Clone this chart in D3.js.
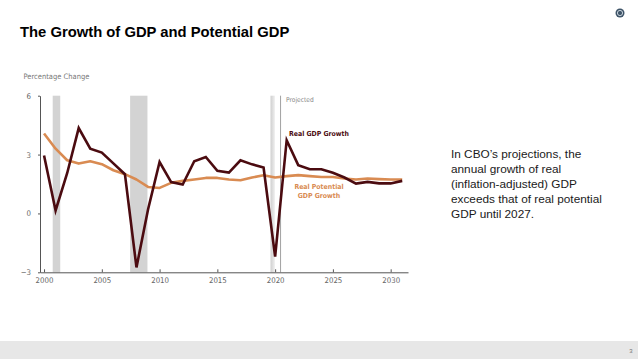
<!DOCTYPE html>
<html>
<head>
<meta charset="utf-8">
<script src="https://cdn.jsdelivr.net/npm/d3@7"></script>
<style>
  html, body { margin: 0; padding: 0; background: #fff; }
  svg { display: block; }
</style>
</head>
<body>
<svg id="chart" width="638" height="359"></svg>
<script>
// ---- data ----
const years = d3.range(2000, 2032);
const realGDP = [2.95, 0.15, 2.05, 4.35, 3.3, 3.1, 2.55, 2.0, -2.75, 0.2,
                 2.62, 1.6, 1.47, 2.66, 2.88, 2.17, 2.08, 2.71, 2.5, 2.34,
                 -2.2, 3.73, 2.46, 2.25, 2.25, 2.07, 1.83, 1.52, 1.61, 1.53, 1.53, 1.66];
const potentialGDP = [4.07, 3.3, 2.71, 2.54, 2.66, 2.51, 2.2, 2.0, 1.73, 1.35,
                      1.3, 1.56, 1.66, 1.73, 1.81, 1.81, 1.73, 1.69, 1.83, 1.95,
                      1.83, 1.9, 1.95, 1.9, 1.86, 1.86, 1.78, 1.73, 1.78, 1.75, 1.73, 1.73];
const recessions = [[2000.75, 2001.4], [2007.45, 2008.95]];
const covidRecession = [2019.6, 2019.98];
const projectedStart = 2020.47;
const xTicks = [2000, 2005, 2010, 2015, 2020, 2025, 2030];
const yTicks = [-3, 0, 3, 6];
const bodyLines = ["In CBO\u2019s projections, the", "annual growth of real",
                   "(inflation-adjusted) GDP", "exceeds that of real potential", "GDP until 2027."];

// ---- setup ----
const svg = d3.select("#chart");
const narrow = "'Liberation Sans Narrow', 'DejaVu Sans Condensed', 'Roboto Condensed', sans-serif";
const arial = "'Liberation Sans', Arial, sans-serif";

const x = d3.scaleLinear().domain([1999.65, 2031.5]).range([40, 408]);
const y = d3.scaleLinear().domain([-3, 6]).range([272.3, 95.7]);

const defs = svg.append("defs");
const grad = defs.append("linearGradient").attr("id", "covidGrad").attr("x1", "0").attr("x2", "1");
grad.append("stop").attr("offset", "0").attr("stop-color", "#cfcfcf");
grad.append("stop").attr("offset", "1").attr("stop-color", "#efefef");

// Title
svg.append("text").attr("x", 20).attr("y", 36.8)
  .attr("font-family", arial).attr("font-weight", "bold").attr("font-size", 14.8)
  .attr("fill", "#000").text("The Growth of GDP and Potential GDP");

// Logo
const logo = svg.append("g").attr("transform", "translate(620,13)");
logo.append("circle").attr("r", 4.5).attr("fill", "#3e5468");
logo.append("circle").attr("r", 2.6).attr("fill", "none").attr("stroke", "#c9d3dc").attr("stroke-width", 1);

// Footer band
svg.append("rect").attr("x", 0).attr("y", 341).attr("width", 638).attr("height", 18).attr("fill", "#e7e7e7");
svg.append("text").attr("x", 631).attr("y", 353).attr("text-anchor", "middle")
  .attr("font-family", arial).attr("font-size", 6).attr("fill", "#777").text("3");

// Recession bars
svg.append("g").selectAll("rect").data(recessions).join("rect")
  .attr("x", d => x(d[0])).attr("width", d => x(d[1]) - x(d[0]))
  .attr("y", y(6)).attr("height", y(-3) - y(6)).attr("fill", "#d3d3d3");
svg.append("rect").attr("x", x(covidRecession[0])).attr("width", x(covidRecession[1]) - x(covidRecession[0]))
  .attr("y", y(6)).attr("height", y(-3) - y(6)).attr("fill", "url(#covidGrad)");

// Projected line
svg.append("line").attr("x1", x(projectedStart)).attr("x2", x(projectedStart))
  .attr("y1", y(6)).attr("y2", y(-3)).attr("stroke", "#8a8a8a").attr("stroke-width", 0.8);
svg.append("text").attr("x", x(projectedStart) + 5.5).attr("y", 101.5)
  .attr("font-family", narrow).attr("font-size", 6.6).attr("fill", "#888").text("Projected");

// Percentage Change
svg.append("text").attr("x", 23.5).attr("y", 79)
  .attr("font-family", narrow).attr("font-size", 7.5).attr("fill", "#777").text("Percentage Change");

// Axes
const xAxis = svg.append("g").attr("transform", `translate(0,${y(-3)})`)
  .call(d3.axisBottom(x).tickValues(xTicks).tickSizeInner(-3).tickSizeOuter(0).tickPadding(5).tickFormat(d3.format("d")));
xAxis.select(".domain").attr("stroke", "#555");
xAxis.selectAll(".tick line").attr("stroke", "#555");
xAxis.selectAll("text").attr("font-family", narrow).attr("font-size", 7.8).attr("fill", "#666");

const yAxis = svg.append("g").attr("transform", `translate(40,0)`)
  .call(d3.axisLeft(y).tickValues(yTicks).tickSizeInner(2).tickSizeOuter(0).tickPadding(7));
yAxis.select(".domain").attr("stroke", "#555");
yAxis.selectAll(".tick line").attr("stroke", "#555");
yAxis.selectAll("text").attr("font-family", narrow).attr("font-size", 7.8).attr("fill", "#666");

// Lines
const line = d3.line().x((d, i) => x(years[i])).y(d => y(d));
svg.append("path").datum(potentialGDP).attr("d", line)
  .attr("fill", "none").attr("stroke", "#d98b52").attr("stroke-width", 2.6).attr("stroke-linejoin", "round");
svg.append("path").datum(realGDP).attr("d", line)
  .attr("fill", "none").attr("stroke", "#4b0b10").attr("stroke-width", 2.6).attr("stroke-linejoin", "miter");

// Series labels
svg.append("text").attr("x", 289).attr("y", 135.5)
  .attr("font-family", narrow).attr("font-weight", "bold").attr("font-size", 6.9)
  .attr("fill", "#4b0b10").text("Real GDP Growth");
const pl = svg.append("text").attr("font-family", narrow).attr("font-weight", "bold").attr("font-size", 6.9)
  .attr("fill", "#d98b52").attr("text-anchor", "middle");
pl.append("tspan").attr("x", 319).attr("y", 189).text("Real Potential");
pl.append("tspan").attr("x", 319).attr("y", 197.5).text("GDP Growth");

// Body text
svg.append("g").selectAll("text").data(bodyLines).join("text")
  .attr("x", 451).attr("y", (d, i) => 158.3 + i * 15)
  .attr("font-family", arial).attr("font-size", 11.8).attr("fill", "#1a1a1a").text(d => d);
</script>
</body>
</html>
